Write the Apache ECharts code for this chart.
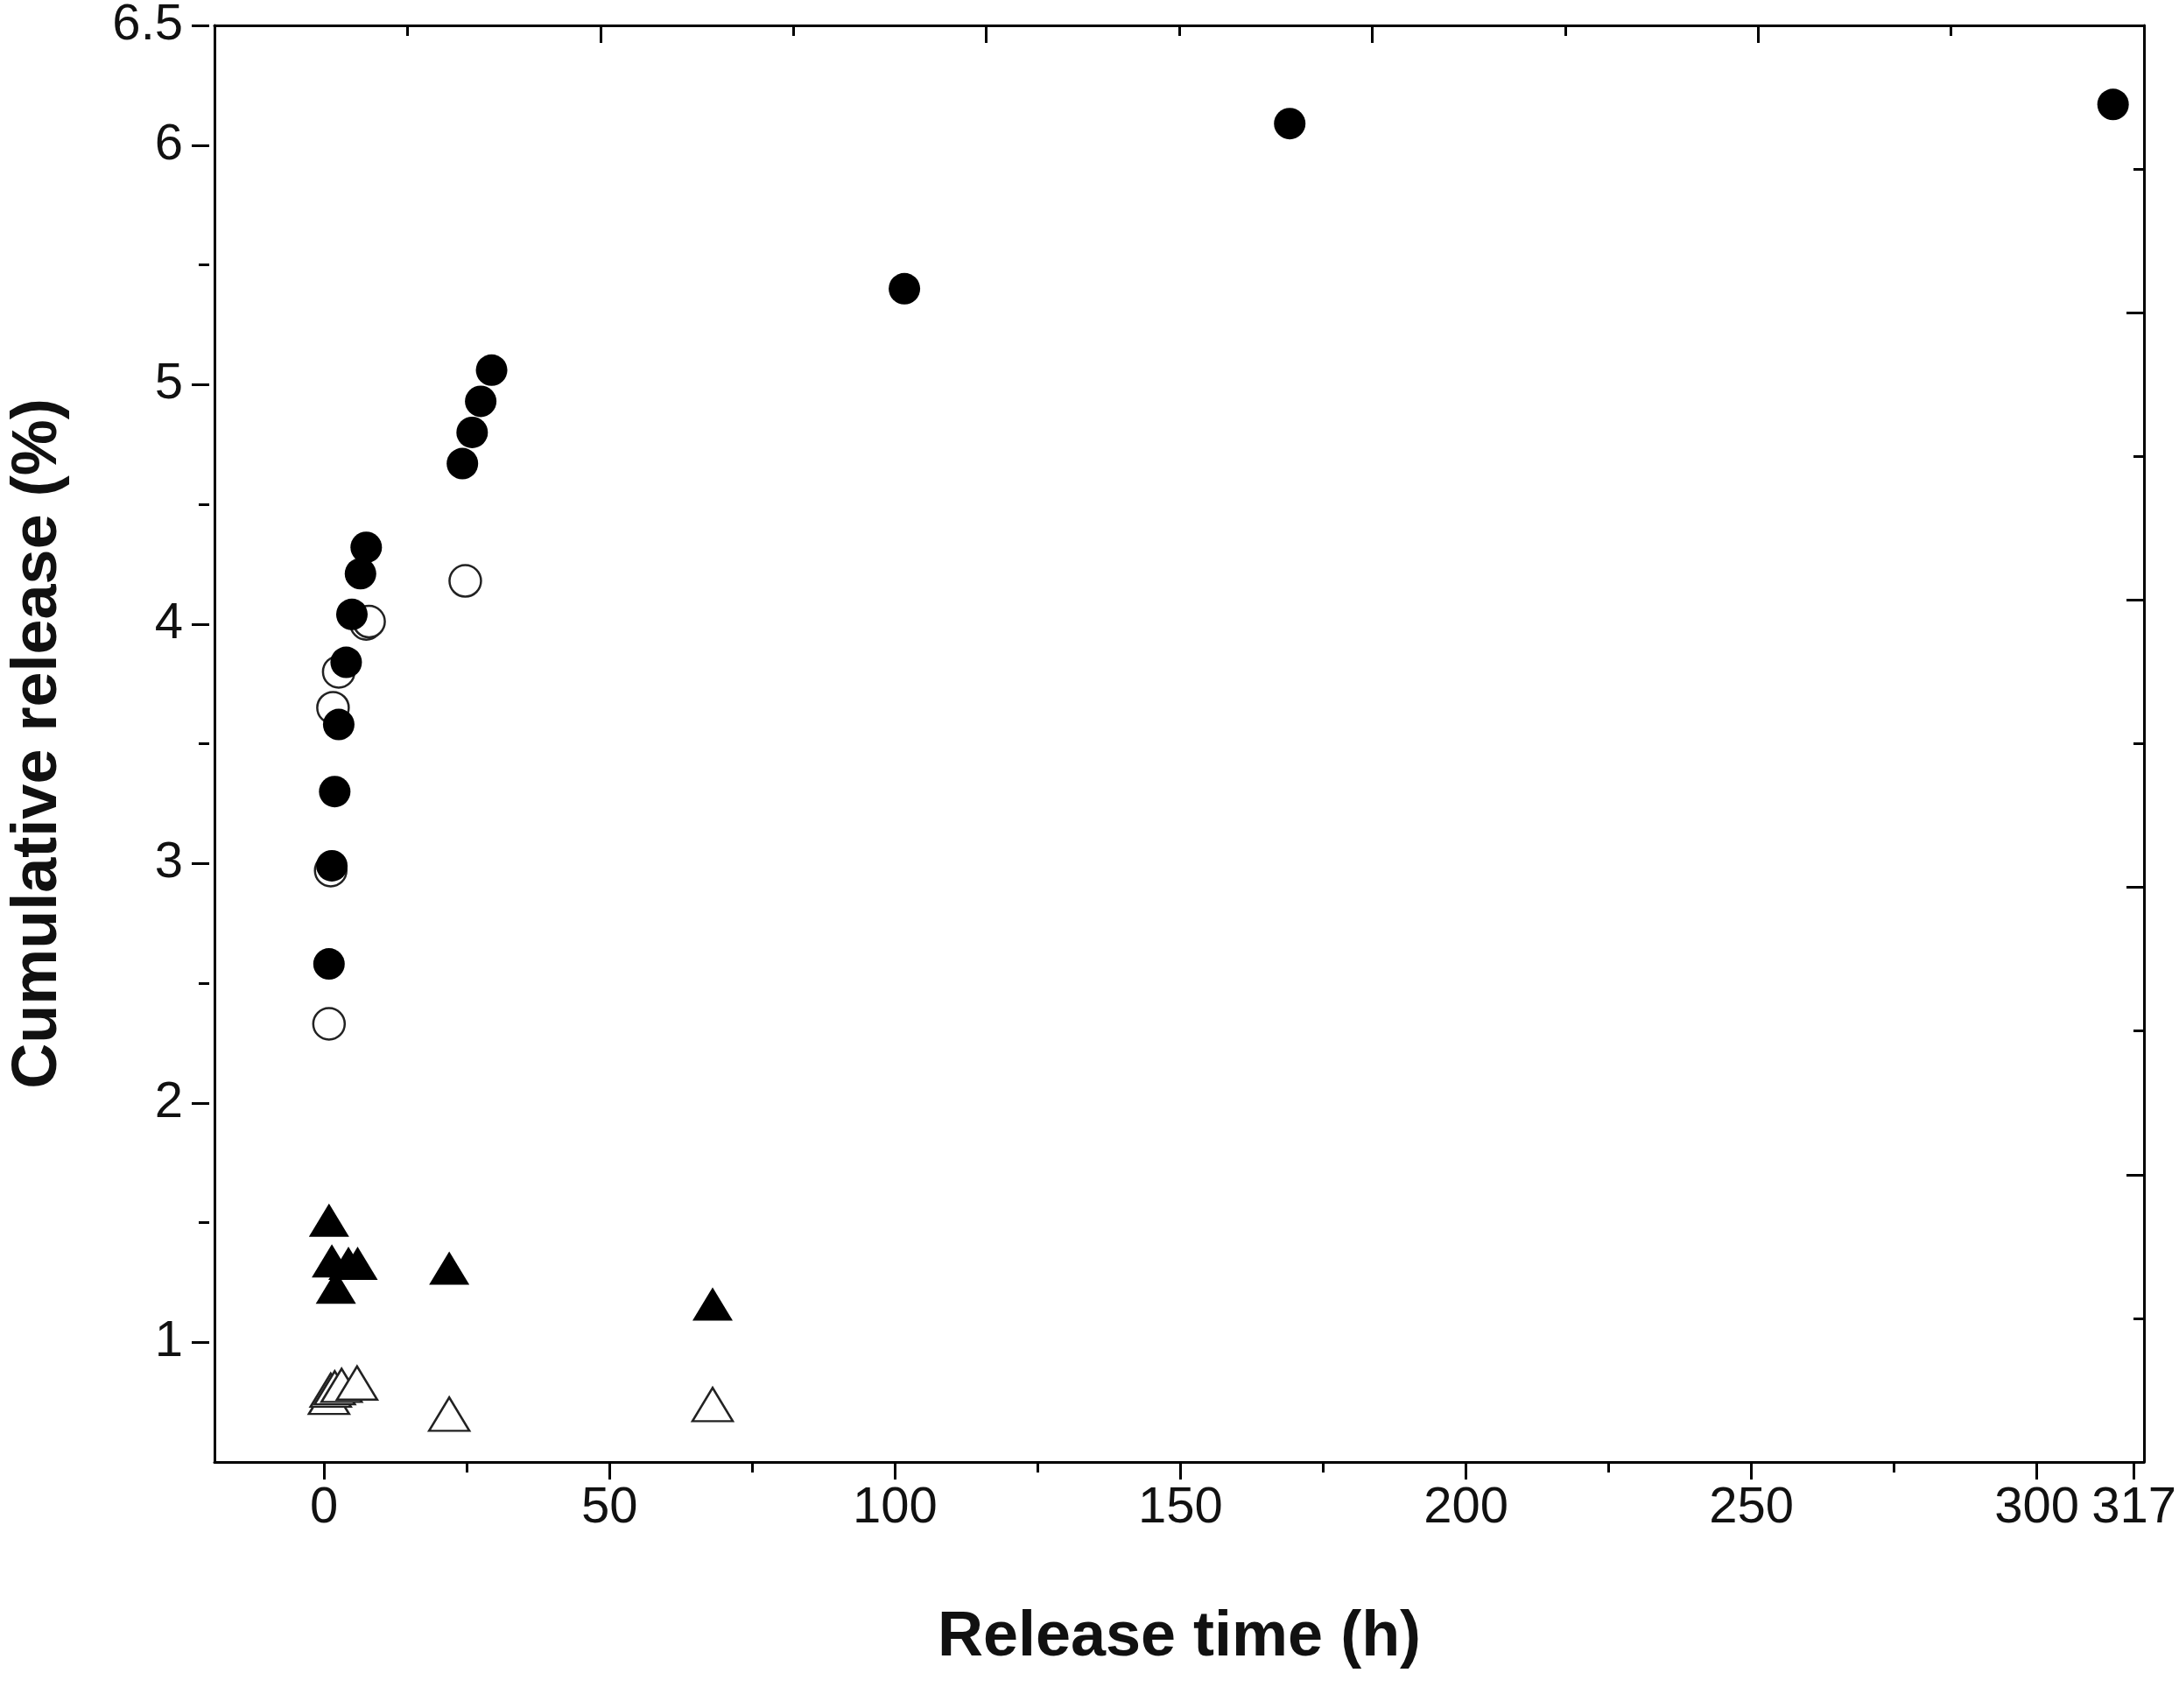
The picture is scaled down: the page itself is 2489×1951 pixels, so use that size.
<!DOCTYPE html>
<html><head><meta charset="utf-8">
<script src="https://cdn.jsdelivr.net/npm/echarts@6/dist/echarts.min.js"></script>
<style>html,body{margin:0;padding:0;background:#fff}#c{width:2489px;height:1951px}</style>
</head><body><div id="c"></div>
<script>
const filledCircles = [[0,2.58],[0.5,2.99],[1,3.30],[1.7,3.58],[3,3.84],[4,4.04],[5.5,4.21],[6.5,4.32],[23.3,4.67],[25,4.80],[26.5,4.93],[28.4,5.06],[100.5,5.40],[167.8,6.09],[311.6,6.17]];
const openCircles = [[0,2.33],[0.3,2.97],[0.7,3.65],[1.7,3.80],[6.5,4.0],[7,4.01],[23.8,4.18]];
const filledTriangles = [[0,1.51],[0.5,1.34],[1.2,1.23],[3.4,1.33],[5,1.33],[21,1.31],[67,1.16]];
const openTriangles = [[0,0.77],[0.3,0.80],[1,0.81],[2.2,0.82],[4.9,0.83],[21,0.70],[67,0.74]];
const xTitle = 'Release time (h)';
const yTitle = 'Cumulative release (%)';

const F = 'Liberation Sans, Arial, sans-serif';
const L = 239, R = 40, T = 29, B = 281, W = 2489 - L - R, H = 1951 - T - B;
const X0 = -20, X1 = 317, Y0 = 0.5, Y1 = 6.5;
const zeroX = L + (0 - X0) / (X1 - X0) * W;
const oneY = 1951 - B - (1 - Y0) / (Y1 - Y0) * H;
const tk = (len, inside) => ({show:true, inside:!!inside, length:len, lineStyle:{color:'#000', width:3}});
const line = {show:true, onZero:false, lineStyle:{color:'#000', width:3}};
const noLine = {show:false, onZero:false};
const chart = echarts.init(document.getElementById('c'));
chart.setOption({
  animation:false,
  grid:[
    {left:L, right:R, top:T, bottom:B},
    {left:zeroX, right:R, top:T, bottom:1951 - oneY}
  ],
  xAxis:[
    {gridIndex:0, type:'value', min:X0, max:X1, position:'bottom',
     axisLine:line, axisTick:{show:false}, splitLine:{show:false}, axisLabel:{show:false},
     name:xTitle, nameLocation:'middle', nameGap:165,
     nameTextStyle:{fontSize:72, fontWeight:'bold', color:'#111', fontFamily:F}},
    {gridIndex:0, type:'value', min:0, max:5, interval:1, position:'top',
     axisLine:line, axisTick:tk(20, true), minorTick:{...tk(12, true), splitNumber:2},
     splitLine:{show:false}, axisLabel:{show:false}},
    {gridIndex:1, type:'value', min:0, max:X1, interval:50, position:'bottom',
     offset:(1951 - oneY) - B,
     axisLine:noLine, axisTick:tk(20), minorTick:{...tk(12), splitNumber:2},
     splitLine:{show:false},
     axisLabel:{fontSize:58, color:'#111', fontFamily:F, margin:24}}
  ],
  yAxis:[
    {gridIndex:0, type:'value', min:Y0, max:Y1, position:'left',
     axisLine:line, axisTick:{show:false}, splitLine:{show:false}, axisLabel:{show:false},
     name:yTitle, nameLocation:'middle', nameGap:165,
     nameTextStyle:{fontSize:72, fontWeight:'bold', color:'#111', fontFamily:F}},
    {gridIndex:0, type:'value', min:0, max:6, interval:1.2, position:'right',
     axisLine:line, axisTick:tk(20, true), minorTick:{...tk(12, true), splitNumber:2},
     splitLine:{show:false}, axisLabel:{show:false}},
    {gridIndex:1, type:'value', min:1, max:Y1, interval:1, position:'left',
     offset:zeroX - L,
     axisLine:noLine, axisTick:tk(20), minorTick:{...tk(12), splitNumber:2},
     splitLine:{show:false},
     axisLabel:{fontSize:58, color:'#111', fontFamily:F, margin:30}}
  ],
  series:[
    {type:'scatter', xAxisIndex:0, yAxisIndex:0, data:openTriangles, symbol:'triangle', symbolSize:[46,38],
     itemStyle:{color:'#fff', borderColor:'#222', borderWidth:2.5, opacity:1}},
    {type:'scatter', xAxisIndex:0, yAxisIndex:0, data:filledTriangles, symbol:'triangle', symbolSize:[46,38],
     itemStyle:{color:'#000', opacity:1}},
    {type:'scatter', xAxisIndex:0, yAxisIndex:0, data:openCircles, symbol:'circle', symbolSize:36,
     itemStyle:{color:'#fff', borderColor:'#222', borderWidth:2.5, opacity:1}},
    {type:'scatter', xAxisIndex:0, yAxisIndex:0, data:filledCircles, symbol:'circle', symbolSize:36,
     itemStyle:{color:'#000', opacity:1}}
  ]
});
</script></body></html>
